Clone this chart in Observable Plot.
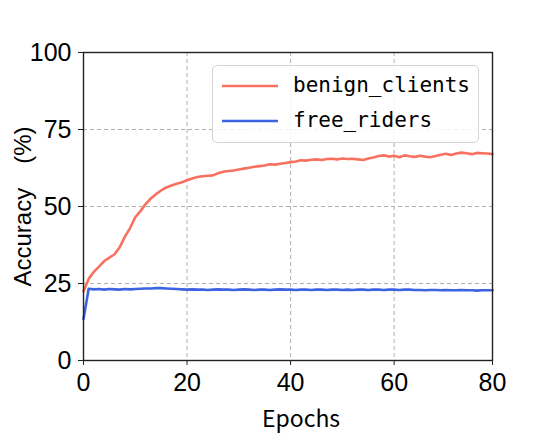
<!DOCTYPE html>
<html>
<head>
<meta charset="utf-8">
<script src="https://cdn.jsdelivr.net/npm/d3@7"></script>
<script src="https://cdn.jsdelivr.net/npm/@observablehq/plot@0.6"></script>
<style>
  body { margin: 0; background: #fff; }
  #wrap { position: relative; width: 545px; height: 444px; }
  #legend {
    position: absolute; left: 212px; top: 65px; width: 267px; height: 78px;
    box-sizing: border-box; border: 1px solid #d4d4d4; border-radius: 5px;
    background: rgba(255,255,255,0.85);
    font-family: "DejaVu Sans Mono", monospace; font-size: 21px; color: #000;
  }
  .row { position: absolute; left: 0; height: 30px; width: 100%; }
  .row svg { position: absolute; left: 9px; top: 0; }
  .row span { position: absolute; left: 80px; top: 1px; line-height: 26px; }
</style>
</head>
<body>
<div id="wrap"></div>
<script>
const seriesNames = ["benign_clients", "free_riders"];
const seriesColors = ["#F8705F", "#3D63E0"];

const benignClients = [
  22.5, 26.5, 28.8, 30.5, 32.3, 33.4, 34.5, 36.8, 40.2, 43.0,
  46.5, 48.5, 50.8, 52.6, 54.0, 55.2, 56.2, 56.8, 57.4, 57.9,
  58.5, 59.1, 59.6, 59.8, 60.0, 60.1, 60.8, 61.3, 61.5, 61.7,
  62.0, 62.3, 62.6, 62.9, 63.1, 63.3, 63.7, 63.6, 63.9, 64.1,
  64.4, 64.6, 65.0, 64.9, 65.2, 65.3, 65.1, 65.4, 65.5, 65.3,
  65.6, 65.4, 65.5, 65.3, 65.1, 65.6, 65.9, 66.4, 66.6, 66.2,
  66.5, 66.0, 66.6, 66.3, 66.1, 66.5, 66.2, 66.0, 66.4, 66.8,
  67.1, 66.7, 67.2, 67.5, 67.3, 67.0, 67.4, 67.3, 67.2, 67.0
];

const freeRiders = [
  13.5, 23.3, 23.1, 23.2, 23.0, 23.2, 23.1, 23.0, 23.2, 23.1,
  23.2, 23.3, 23.4, 23.4, 23.5, 23.5, 23.4, 23.3, 23.2, 23.1,
  23.0, 23.1, 23.0, 23.0, 22.9, 23.0, 23.1, 23.0, 23.0, 22.9,
  23.0, 23.1, 23.0, 22.9, 23.0, 23.0, 22.9, 23.0, 23.1, 23.0,
  23.0, 22.9, 23.0, 23.0, 22.9, 23.0, 23.0, 22.9, 23.0, 23.0,
  22.9, 23.0, 22.9, 23.0, 23.0, 22.9, 23.0, 23.0, 22.9, 23.0,
  23.0, 22.9, 23.0, 23.0, 22.9, 22.9, 22.8, 22.9, 22.9, 22.8,
  22.9, 22.8, 22.8, 22.9, 22.8, 22.8, 22.7, 22.8, 22.8, 22.8
];

// x tick positions (last tick sits on the final epoch index, labelled 80)
const xTickPositions = [0, 20, 40, 60, 79];
const xTickLabels = ["0", "20", "40", "60", "80"];
const yTicks = [0, 25, 50, 75, 100];
const xLabel = "Epochs";
const yLabel = "Accuracy\u3000(%)";

const rows = [];
[benignClients, freeRiders].forEach((vals, s) => {
  vals.forEach((v, i) => rows.push({epoch: i, acc: v, series: seriesNames[s]}));
});

const gridStyle = {stroke: "#b0b0b0", strokeOpacity: 1, strokeWidth: 1, strokeDasharray: "4,3"};

const chart = Plot.plot({
  width: 545,
  height: 444,
  marginLeft: 83,
  marginRight: 53,
  marginTop: 52,
  marginBottom: 84,
  style: {fontFamily: "'Liberation Sans', Arial, sans-serif", background: "white", color: "#000"},
  x: {domain: [0, 79]},
  y: {domain: [0, 100]},
  color: {domain: seriesNames, range: seriesColors},
  marks: [
    Plot.gridX(xTickPositions, gridStyle),
    Plot.gridY(yTicks, gridStyle),
    Plot.line(rows, {x: "epoch", y: "acc", z: "series", stroke: "series", strokeWidth: 2.6}),
    Plot.frame({stroke: "#222", strokeWidth: 1.4}),
    Plot.axisX(xTickPositions, {
      tickFormat: (d) => xTickLabels[xTickPositions.indexOf(d)],
      tickSize: 5, tickPadding: 8, fontSize: 25, label: null, stroke: "#222"
    }),
    Plot.axisY(yTicks, {tickSize: 5, tickPadding: 7, fontSize: 25, label: null, stroke: "#222"}),
    Plot.text([xLabel], {
      frameAnchor: "bottom", dx: 13, dy: 66, fontSize: 23,
      fontFamily: "'Noto Sans CJK SC', sans-serif", textAnchor: "middle"
    }),
    Plot.text([yLabel], {
      frameAnchor: "left", dx: -60, rotate: -90, fontSize: 24,
      fontFamily: "'Liberation Sans', Arial, sans-serif", textAnchor: "middle"
    })
  ]
});

const wrap = document.getElementById("wrap");
wrap.appendChild(chart);

const legend = document.createElement("div");
legend.id = "legend";
seriesNames.forEach((name, i) => {
  const row = document.createElement("div");
  row.className = "row";
  row.style.top = (i === 0 ? 5 : 40) + "px";
  row.innerHTML = `<svg width="56" height="30"><line x1="0" x2="56" y1="15" y2="15" stroke="${seriesColors[i]}" stroke-width="2.6"/></svg><span>${name}</span>`;
  legend.appendChild(row);
});
wrap.appendChild(legend);
</script>
</body>
</html>
